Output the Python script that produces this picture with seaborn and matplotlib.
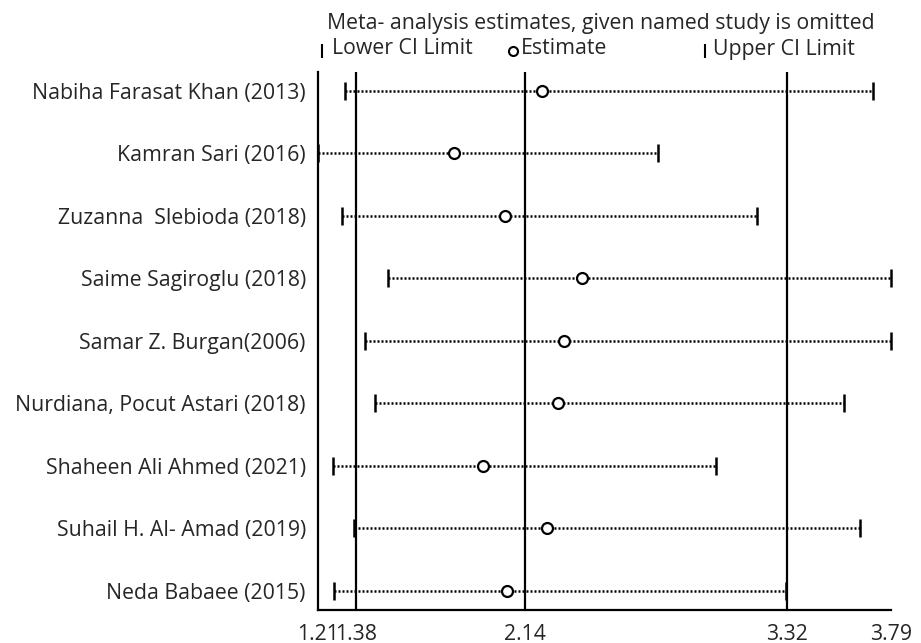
import matplotlib
matplotlib.use("Agg")
import matplotlib.pyplot as plt
from matplotlib.lines import Line2D
import seaborn as sns
import pandas as pd

studies = [
    "Nabiha Farasat Khan (2013)",
    "Kamran Sari (2016)",
    "Zuzanna  Slebioda (2018)",
    "Saime Sagiroglu (2018)",
    "Samar Z. Burgan(2006)",
    "Nurdiana, Pocut Astari (2018)",
    "Shaheen Ali Ahmed (2021)",
    "Suhail H. Al- Amad (2019)",
    "Neda Babaee (2015)",
]
estimate = [2.22, 1.82, 2.05, 2.40, 2.315, 2.29, 1.95, 2.24, 2.06]
lower = [1.33, 1.21, 1.315, 1.522, 1.42, 1.466, 1.275, 1.371, 1.282]
upper = [3.707, 2.74, 3.187, 3.79, 3.79, 3.579, 3.002, 3.651, 3.317]
overall = [1.38, 2.14, 3.32]
tick_vals = [1.21, 1.38, 2.14, 3.32, 3.79]
tick_labels = ["1.21", "1.38", "2.14", "3.32", "3.79"]

df = pd.DataFrame({"study": studies, "est": estimate, "lo": lower, "hi": upper})
df["row"] = range(1, len(df) + 1)

sns.set_style("white")
plt.rcParams["font.family"] = ["Open Sans", "DejaVu Sans"]
FS = 15.3

W, H = 921, 643
fig = plt.figure(figsize=(W / 100, H / 100), dpi=100)
ax = fig.add_axes([318.3 / W, 1 - 610 / H, (891 - 318.3) / W, (610 - 72.3) / H])

# CI dotted lines
ax.hlines(df["row"], df["lo"], df["hi"], colors="black", linewidth=1.8,
          linestyles=(0, (0.8, 0.8)), zorder=2)
# caps
ax.plot(df["lo"], df["row"], linestyle="none", marker="|", markersize=13,
        markeredgewidth=1.8, color="black", clip_on=False, zorder=3)
ax.plot(df["hi"], df["row"], linestyle="none", marker="|", markersize=13,
        markeredgewidth=1.8, color="black", clip_on=False, zorder=3)
# estimates
sns.scatterplot(data=df, x="est", y="row", ax=ax, marker="o", s=62,
                facecolor="white", edgecolor="black", linewidth=1.6,
                zorder=4, legend=False)

for v in overall:
    ax.axvline(v, color="black", linewidth=1.6, zorder=1)

ax.set_xlim(tick_vals[0], tick_vals[-1])
ax.set_ylim(9.31, 0.70)
ax.set_yticks(df["row"])
ax.set_yticklabels(df["study"], fontsize=FS)
ax.set_xticks(tick_vals)
ax.set_xticklabels(tick_labels, fontsize=FS)
ax.tick_params(axis="y", length=0, pad=9)
ax.tick_params(axis="x", length=7, width=1.6, pad=3, color="black", direction="out")
ax.set_xlabel("")
ax.set_ylabel("")
for s in ["top", "right"]:
    ax.spines[s].set_visible(False)
for s in ["left", "bottom"]:
    ax.spines[s].set_color("black")
    ax.spines[s].set_linewidth(1.6)

def fx(x):
    return x / W

def fy(y):
    return 1 - y / H

fig.text(fx(601), fy(23), "Meta- analysis estimates, given named study is omitted",
         ha="center", va="center", fontsize=FS)
fig.add_artist(Line2D([fx(322)], [fy(51)], marker="|", markersize=10,
                      markeredgewidth=1.5, color="black", linestyle="none"))
fig.text(fx(332), fy(49), "Lower CI Limit", ha="left", va="center", fontsize=FS)
fig.add_artist(Line2D([fx(513)], [fy(51)], marker="o", markersize=6.5,
                      markerfacecolor="white", markeredgecolor="black",
                      markeredgewidth=1.5, linestyle="none"))
fig.text(fx(521), fy(49), "Estimate", ha="left", va="center", fontsize=FS)
fig.add_artist(Line2D([fx(705)], [fy(51)], marker="|", markersize=10,
                      markeredgewidth=1.5, color="black", linestyle="none"))
fig.text(fx(713), fy(49), "Upper CI Limit", ha="left", va="center", fontsize=FS)

fig.savefig("out.png", dpi=100, facecolor="white")
